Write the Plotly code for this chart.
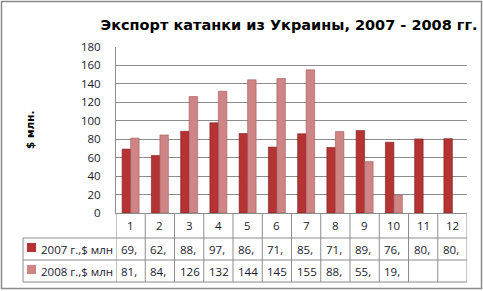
import plotly.graph_objects as go

# ---- data ----
months = [1, 2, 3, 4, 5, 6, 7, 8, 9, 10, 11, 12]
month_labels = ["1", "2", "3", "4", "5", "6", "7", "8", "9", "10", "11", "12"]
exp_2007 = [69.3, 62.4, 88.6, 97.8, 86.2, 71.5, 85.9, 71.1, 89.4, 76.7, 80.3, 80.6]
exp_2008 = [81.2, 84.6, 126.3, 132.1, 144.4, 145.8, 155.2, 88.3, 55.7, 19.4]
series_names = ["2007 г.,$ млн", "2008 г.,$ млн"]
title_text = "Экспорт катанки из Украины, 2007 - 2008 гг."
y_title = "$ млн."

# ---- layout constants ----
W, H = 483, 291
L, R, T, B = 116, 16, 47, 78
PW, PH = W - L - R, H - T - B
C2007 = "#B53333"
C2008 = "#CF8585"
GRID = "#8C8C8C"
TXT = "#1a1a2e"
FONT = "Open Sans"


def px_x(px):
    return (px - L) / PW


def px_y(py):
    return (H - B - py) / PH


def cell_label(v):
    return f"{v:.1f}".replace(".", ",")[:3]


fig = go.Figure()
fig.add_trace(go.Bar(x=months, y=exp_2007, name=series_names[0],
                     marker=dict(color=C2007, line=dict(color="#7a1c1c", width=0.6))))
fig.add_trace(go.Bar(x=months[:len(exp_2008)], y=exp_2008, name=series_names[1],
                     marker=dict(color=C2008, line=dict(color="#a05858", width=0.6))))

shapes = []
line = dict(color=GRID, width=1)
# table horizontal lines
for py in (238, 260, 282):
    shapes.append(dict(type="line", xref="paper", yref="paper",
                       x0=px_x(23), x1=1, y0=px_y(py), y1=px_y(py), line=line))
# table vertical lines at category boundaries
for i in range(len(months) + 1):
    shapes.append(dict(type="line", xref="x", yref="paper",
                       x0=months[0] - 0.5 + i, x1=months[0] - 0.5 + i,
                       y0=0, y1=px_y(282), line=line))
# legend column left edge
shapes.append(dict(type="line", xref="paper", yref="paper",
                   x0=px_x(23), x1=px_x(23), y0=px_y(238), y1=px_y(282), line=line))
# legend keys
for py, c in ((247.5, C2007), (269.5, C2008)):
    shapes.append(dict(type="rect", xref="paper", yref="paper",
                       x0=px_x(27), x1=px_x(36), y0=px_y(py - 4.5), y1=px_y(py + 4.5),
                       fillcolor=c, line=dict(color=c, width=0)))
# outer chart border
shapes.append(dict(type="rect", xref="paper", yref="paper",
                   x0=px_x(1.5), x1=px_x(481.5), y0=px_y(288.5), y1=px_y(1.5),
                   line=dict(color="#8a8a8a", width=1.5)))

annotations = []
tf = dict(family=FONT, size=11.5, color=TXT)
for m, lab in zip(months, month_labels):
    annotations.append(dict(x=m, y=px_y(225.5), xref="x", yref="paper", text=lab,
                            showarrow=False, font=tf, xanchor="center", yanchor="middle"))
for row_py, vals in ((249, exp_2007), (271, exp_2008)):
    for m, v in zip(months, vals):
        annotations.append(dict(x=m - 0.5, y=px_y(row_py), xref="x", yref="paper",
                                text=cell_label(v), showarrow=False, font=tf,
                                xanchor="left", yanchor="middle", xshift=3))
for row_py, name in ((249, series_names[0]), (271, series_names[1])):
    annotations.append(dict(x=px_x(39), y=px_y(row_py), xref="paper", yref="paper",
                            text=name, showarrow=False, font=tf,
                            xanchor="left", yanchor="middle"))
annotations.append(dict(x=px_x(30), y=0.5, xref="paper", yref="paper", text=f"<b>{y_title}</b>",
                        textangle=-90, showarrow=False,
                        font=dict(family="DejaVu Sans", size=10.5, color="#000"),
                        xanchor="center", yanchor="middle"))

fig.update_layout(
    width=W, height=H,
    margin=dict(l=L, r=R, t=T, b=B),
    paper_bgcolor="white", plot_bgcolor="white",
    barmode="group", bargap=0.42, bargroupgap=0,
    showlegend=False,
    title=dict(text=f"<b>{title_text}</b>", x=px_x(289), xref="paper", xanchor="center",
               y=1 - 25 / H, yref="container", yanchor="middle",
               font=dict(family="DejaVu Sans", size=14.5, color="#000")),
    xaxis=dict(range=[0.5, 12.5], showticklabels=False, showgrid=False, zeroline=False,
               showline=True, linecolor=GRID, linewidth=1, ticks=""),
    yaxis=dict(range=[0, 180], dtick=20, showgrid=True, gridcolor=GRID, gridwidth=1,
               zeroline=False, showline=True, linecolor=GRID, linewidth=1, ticks="",
               ticklabelstandoff=12, tickfont=dict(family=FONT, size=11.5, color=TXT)),
    shapes=shapes, annotations=annotations,
)

fig.write_html("out.html")
